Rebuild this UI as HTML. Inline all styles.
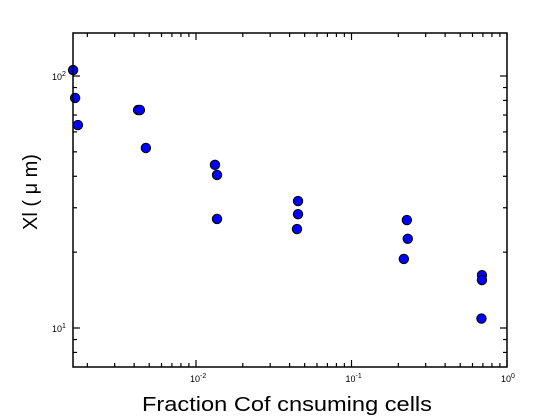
<!DOCTYPE html>
<html><head><meta charset="utf-8"><style>
html,body{margin:0;padding:0;background:#fff;width:560px;height:420px;overflow:hidden}
svg{display:block;font-family:"Liberation Sans",sans-serif}
</style></head><body>
<svg id="chart" width="560" height="420">
<rect x="0" y="0" width="560" height="420" fill="#fff"/>
<g id="ticks"></g>
<g id="marks"></g>
<rect x="73" y="33" width="434" height="334" fill="none" stroke="#000" stroke-width="1.5"/>
<text x="142" y="411" font-size="20" textLength="290" lengthAdjust="spacingAndGlyphs">Fraction Cof cnsuming cells</text>
<text transform="translate(37,192) rotate(-90)" text-anchor="middle" font-size="20">Xl ( μ m)</text>
</svg>
<script>
const xValues = [0.00162,0.00167,0.00174,0.00424,0.00436,0.00476,0.01324,0.01365,0.01365,0.0453,0.0453,0.0446,0.227,0.230,0.217,0.690,0.690,0.685];
const yValues = [105.6,81.8,63.9,73.3,73.3,51.8,44.4,40.5,27.1,31.9,28.3,24.7,26.8,22.6,18.8,16.2,15.5,10.9];
const xTickExps = [-2,-1,0];
const yTickExps = [1,2];

const L=73,R=507,T=33,B=367;
const xMin=Math.log10(0.00162*1.0)-0.0006, xMax=0;
function sx(v){return 196+(Math.log10(v)+2)*155.5;}
function sy(v){return 76-(Math.log10(v)-2)*252;}
const NS="http://www.w3.org/2000/svg";
const tg=document.getElementById('ticks');
const mg=document.getElementById('marks');
function line(x1,y1,x2,y2){const l=document.createElementNS(NS,'line');l.setAttribute('x1',x1);l.setAttribute('y1',y1);l.setAttribute('x2',x2);l.setAttribute('y2',y2);l.setAttribute('stroke','#000');l.setAttribute('stroke-width','1.2');


tg.appendChild(l);}
// x ticks
for(let e=-3;e<=0;e++){for(let m=1;m<=9;m++){const v=m*Math.pow(10,e);if(v>1.0001)break;const x=sx(v);if(x<L+1||x>R+0.5)continue;const len=m===1?7:4;line(x,B,x,B-len);line(x,T,x,T+len);}}
// y ticks
for(let e=0;e<=2;e++){for(let m=1;m<=9;m++){const v=m*Math.pow(10,e);const y=sy(v);if(y<T+1||y>B-1)continue;const len=m===1?7:4;line(L,y,L+len,y);line(R,y,R-len,y);}}
xTickExps.forEach(e=>{const t=document.createElementNS(NS,'text');const x=sx(Math.pow(10,e));
t.setAttribute('x',x-6);t.setAttribute('y',382);t.setAttribute('font-size','9');
t.innerHTML='10<tspan dy="-4" font-size="7">'+e+'</tspan>';


tg.appendChild(t);});
yTickExps.forEach(e=>{const t=document.createElementNS(NS,'text');const y=sy(Math.pow(10,e));
t.setAttribute('x',52);t.setAttribute('y',y+4);t.setAttribute('font-size','9');
t.innerHTML='10<tspan dy="-4" font-size="7">'+e+'</tspan>';


tg.appendChild(t);});
xValues.forEach((xv,i)=>{const c=document.createElementNS(NS,'circle');
c.setAttribute('cx',sx(xv));c.setAttribute('cy',sy(yValues[i]));c.setAttribute('r','4.7');
c.setAttribute('fill','#0000ff');c.setAttribute('stroke','#000');c.setAttribute('stroke-width','1');


mg.appendChild(c);});
</script>
</body></html>
